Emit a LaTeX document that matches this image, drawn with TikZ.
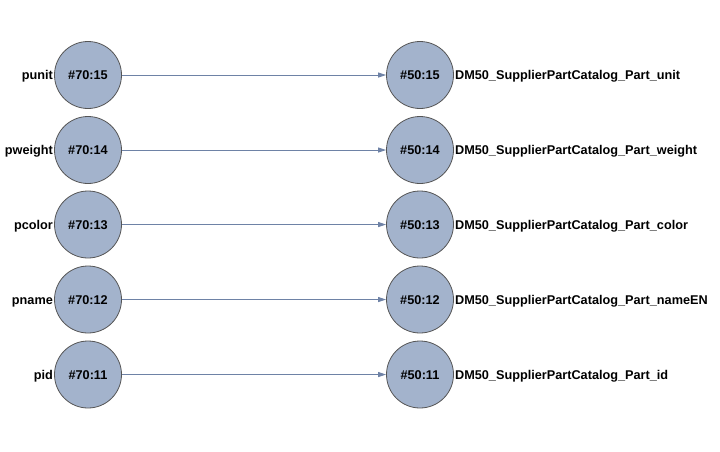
\documentclass[tikz,border=0pt]{standalone}
\usepackage{fontspec}
\setmainfont{Liberation Sans}
\usetikzlibrary{arrows.meta}
\definecolor{nodefill}{HTML}{A3B3CC}
\definecolor{nodeline}{HTML}{555555}
\definecolor{edgecol}{HTML}{6E82A6}
\tikzset{
  x=1pt, y=-1pt,
  col/.style={circle, draw=nodeline, fill=nodefill, line width=0.8pt, minimum size=67pt, inner sep=0pt},
  coltext/.style={font=\bfseries\fontsize{12.7}{15}\selectfont, inner sep=0pt, anchor=base},
  lbl/.style={font=\bfseries\fontsize{12.7}{15}\selectfont, inner sep=1pt},
  link/.style={draw=edgecol, line width=0.9pt, -{Triangle[length=8pt,width=5pt]}}
}
\begin{document}
\begin{tikzpicture}
\useasboundingbox (0,0) rectangle (720,451);
\foreach \n/\y/\a/\b in {15/75/punit/unit, 14/150/pweight/weight, 13/224.5/pcolor/color, 12/299.5/pname/nameEN, 11/374.5/pid/id} {
  \node[col] (l\n) at (88,\y) {};
  \node[col] (r\n) at (420,\y) {};
  \node[coltext] (lt\n) at ([yshift=-4.5pt]l\n.center) {\#70:\n};
  \node[coltext] (rt\n) at ([yshift=-4.5pt]r\n.center) {\#50:\n};
  \node[lbl, anchor=base east] (la\n) at ([yshift=-4.5pt]l\n.west) {\a};
  \node[lbl, anchor=base west] (ra\n) at ([yshift=-4.5pt]r\n.east) {DM50\_SupplierPartCatalog\_Part\_\b};
  \draw[link] (l\n) -- (r\n);
}
\end{tikzpicture}
\end{document}
